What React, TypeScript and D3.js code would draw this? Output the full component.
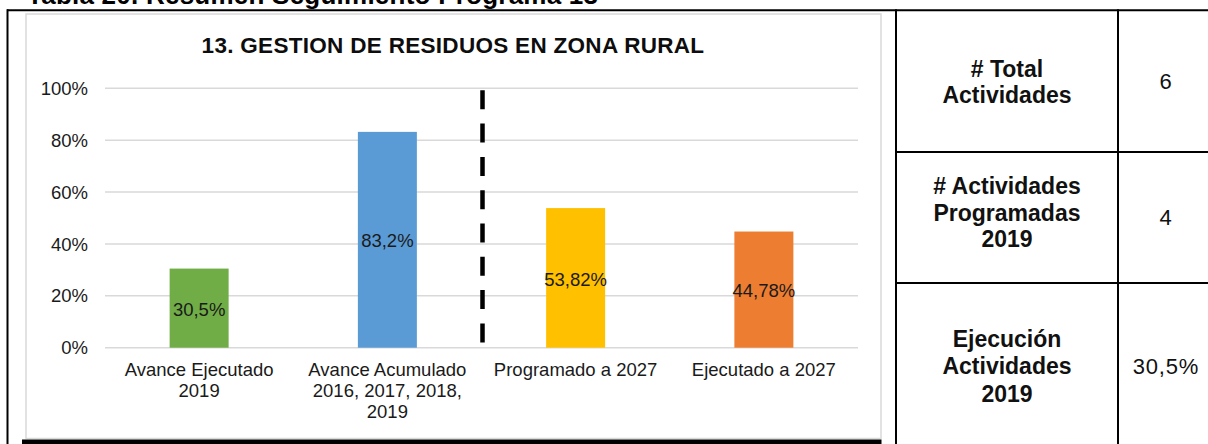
import React from "react";
import * as d3 from "d3";

const categoryLines: string[][] = [
  ["Avance Ejecutado", "2019"],
  ["Avance Acumulado", "2016, 2017, 2018,", "2019"],
  ["Programado a 2027"],
  ["Ejecutado a 2027"],
];
const values: number[] = [30.5, 83.2, 53.82, 44.78];
const barColors: string[] = ["#70ad47", "#5b9bd5", "#ffc000", "#ed7d31"];
const yTicks: number[] = [0, 20, 40, 60, 80, 100];
const chartTitle = "13. GESTION DE RESIDUOS EN ZONA RURAL";
const caption = "Tabla 20. Resumen Seguimiento Programa 13";
const tableLabels: string[][] = [
  ["# Total", "Actividades"],
  ["# Actividades", "Programadas", "2019"],
  ["Ejecución", "Actividades", "2019"],
];
const tableValues: string[] = ["6", "4", "30,5%"];

const FONT = "'Liberation Sans', Arial, sans-serif";

export default function App() {
  const W = 1208;
  const H = 444;
  const y = d3.scaleLinear().domain([0, 100]).range([347.7, 88.3]);
  const x = d3
    .scaleBand<number>()
    .domain(values.map((_, i) => i))
    .range([105, 858])
    .padding(0);
  const step = x.step();
  const barW = 59;
  const cx = (i: number) => (x(i) as number) + step / 2;
  const dashX = (cx(1) + cx(2)) / 2 + 1;
  const fmt = (v: number) => String(v).replace(".", ",") + "%";

  // table geometry
  const tLeft = 896;
  const tMid = 1118;
  const tRight = 1214;
  const rowEdges = [10, 152, 283, 451];
  const labelBaselines = [[76.5, 103], [193.5, 220.5, 247.3], [346.7, 374, 401.5]];
  const valueBaselines = [89, 225, 374];

  return (
    <svg
      width={W}
      height={H}
      style={{ position: "absolute", left: 0, top: 0, background: "#fff" }}
      fontFamily={FONT}
    >
      <rect x={0} y={0} width={W} height={H} fill="#fff" />
      {/* caption, cut off at the top as in the reference */}
      <text x={27} y={4} fontSize={26} fontWeight="bold" fill="#000" textLength={571} lengthAdjust="spacing">
        {caption}
      </text>

      {/* chart frame */}
      <rect x={26} y={14} width={855} height={424.5} fill="#fff" stroke="#d9d9d9" strokeWidth={1.5} />

      <text
        x={453}
        y={53}
        textAnchor="middle"
        fontSize={22.5}
        fontWeight="bold"
        fill="#0d0d0d"
        letterSpacing={0.3}
      >
        {chartTitle}
      </text>

      {/* gridlines + y ticks */}
      {yTicks.map((t) => (
        <g key={t}>
          <line x1={105} x2={858} y1={y(t)} y2={y(t)} stroke="#d9d9d9" strokeWidth={1.5} />
          <text x={88} y={y(t)} dy="0.36em" textAnchor="end" fontSize={18.5} fill="#1a1a1a">
            {t}%
          </text>
        </g>
      ))}

      {/* bars */}
      {values.map((v, i) => (
        <g key={i}>
          <rect x={cx(i) - barW / 2} y={y(v)} width={barW} height={y(0) - y(v)} fill={barColors[i]} />
          <text
            x={cx(i)}
            y={(y(v) + y(0)) / 2 + 1}
            dy="0.36em"
            textAnchor="middle"
            fontSize={18.5}
            fill="#1a1a1a"
          >
            {fmt(v)}
          </text>
        </g>
      ))}

      {/* dashed divider */}
      <line
        x1={dashX}
        x2={dashX}
        y1={y(100) + 2}
        y2={y(0) - 4}
        stroke="#000"
        strokeWidth={4.5}
        strokeDasharray="19,14.3"
      />

      {/* x labels */}
      {categoryLines.map((lines, i) => (
        <text key={i} x={cx(i)} textAnchor="middle" fontSize={18.5} fill="#1a1a1a">
          {lines.map((l, j) => (
            <tspan key={j} x={cx(i)} y={376 + j * 21}>
              {l}
            </tspan>
          ))}
        </text>
      ))}

      {/* bottom black bar */}
      <rect x={22} y={439.5} width={859.5} height={5} fill="#000" />

      {/* outer borders */}
      <line x1={7} x2={W} y1={10.3} y2={10.3} stroke="#000" strokeWidth={2} />
      <line x1={7.5} x2={7.5} y1={9.3} y2={H} stroke="#000" strokeWidth={2} />

      {/* table */}
      <line x1={tLeft} x2={tLeft} y1={9.3} y2={H} stroke="#000" strokeWidth={2} />
      <line x1={tMid} x2={tMid} y1={9.3} y2={H} stroke="#000" strokeWidth={2} />
      {rowEdges.slice(1, 3).map((e, i) => (
        <line key={i} x1={tLeft} x2={W} y1={e} y2={e} stroke="#000" strokeWidth={2} />
      ))}
      {tableLabels.map((lines, r) => (
        <g key={r}>
          <text textAnchor="middle" fontSize={23} fontWeight="bold" fill="#111">
            {lines.map((l, j) => (
              <tspan key={j} x={(tLeft + tMid) / 2} y={labelBaselines[r][j]}>
                {l}
              </tspan>
            ))}
          </text>
          <text
            x={(tMid + tRight) / 2}
            y={valueBaselines[r]}
            textAnchor="middle"
            fontSize={22}
            fill="#111"
            letterSpacing={0.8}
          >
            {tableValues[r]}
          </text>
        </g>
      ))}
    </svg>
  );
}
